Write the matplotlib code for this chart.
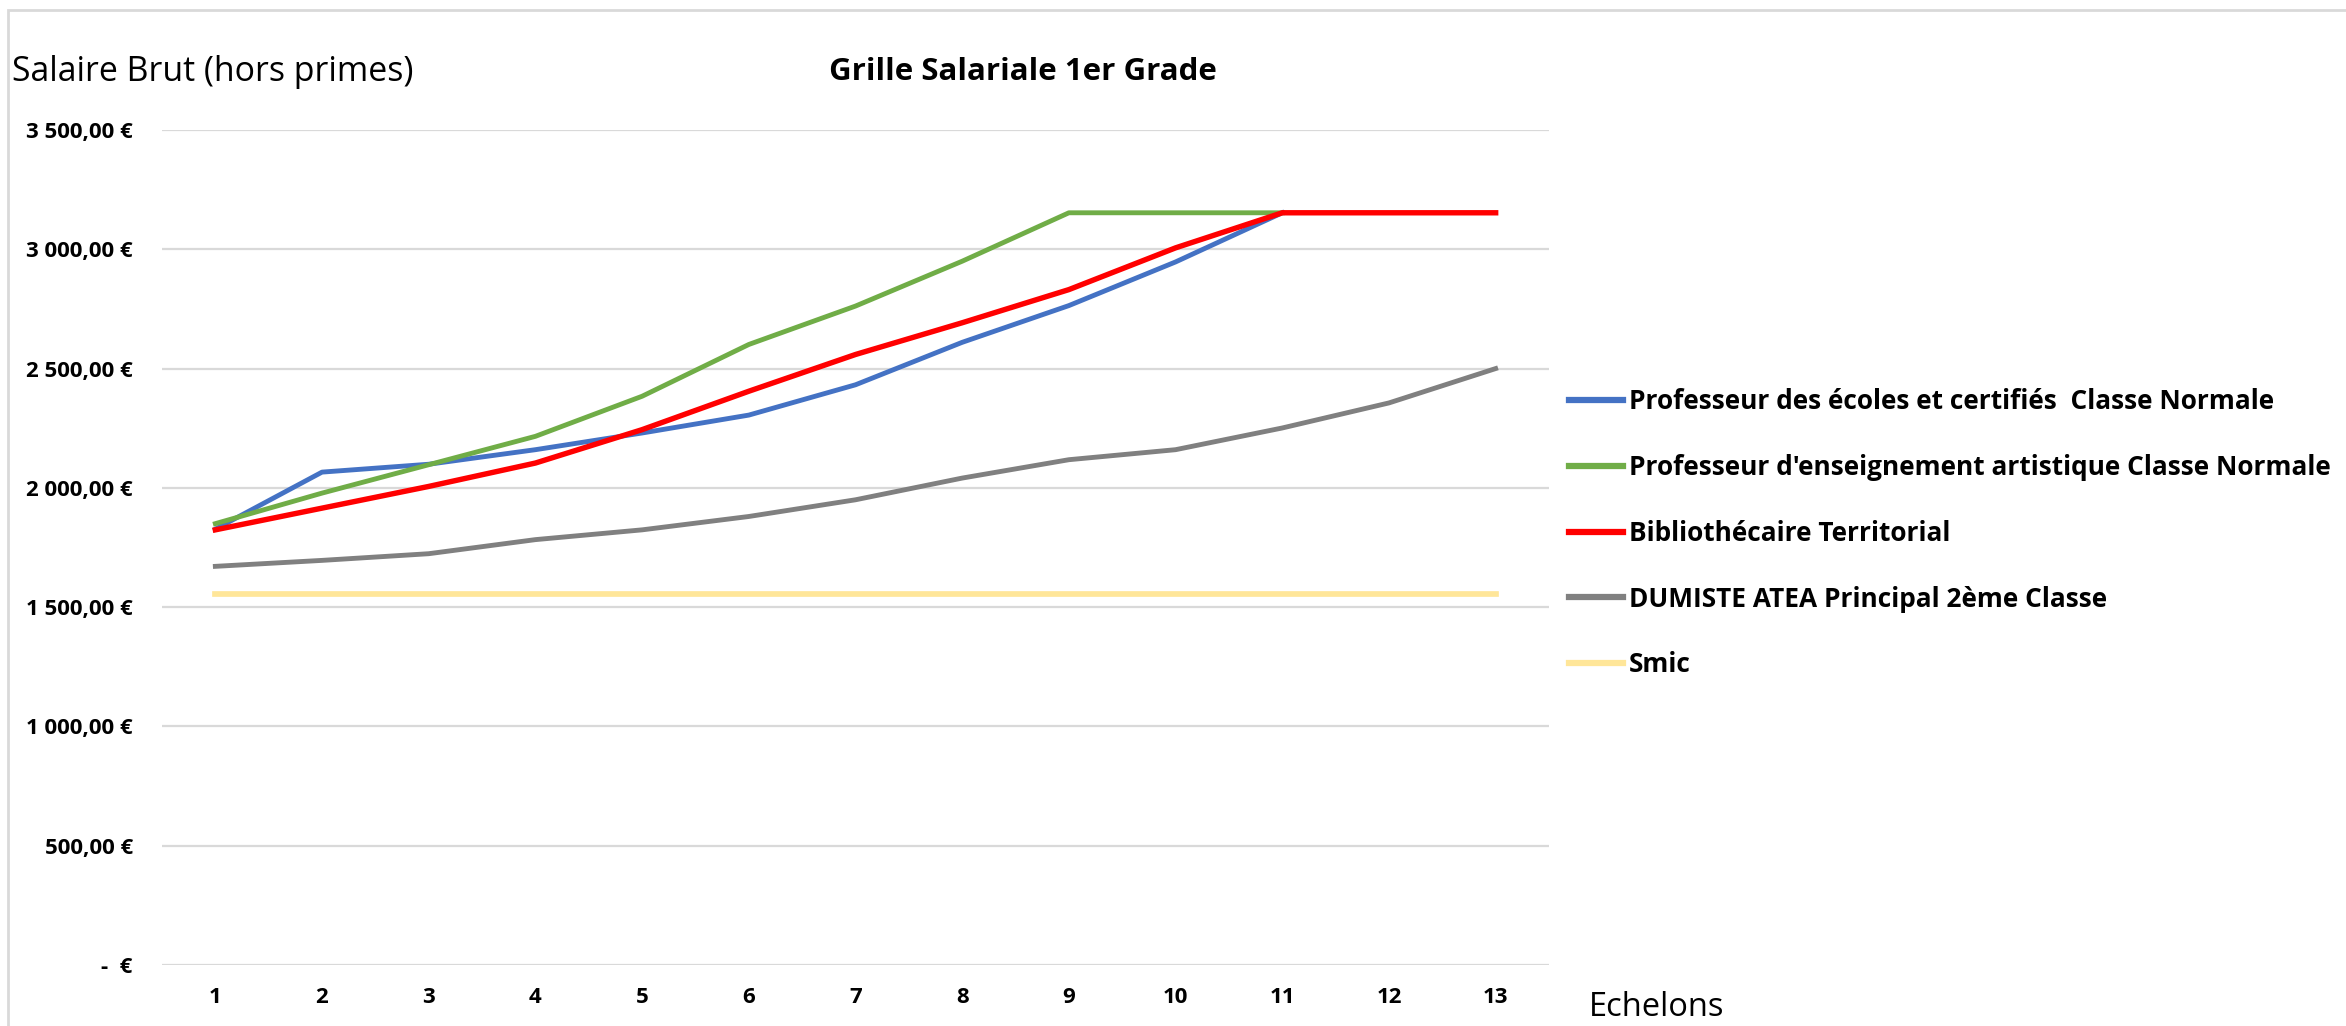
import matplotlib
matplotlib.use("Agg")
import matplotlib.pyplot as plt
from matplotlib.patches import Rectangle
from matplotlib.ticker import FuncFormatter

# Echelons 1..13
echelons = list(range(1, 14))

prof_ecoles = [1827, 2066, 2099, 2160, 2230, 2305, 2432, 2610, 2764, 2947, 3153]
prof_artistique = [1850, 1978, 2097, 2216, 2384, 2601, 2762, 2950, 3153, 3153, 3153]
bibliothecaire = [1824, 1915, 2006, 2104, 2244, 2405, 2559, 2692, 2831, 3006, 3153, 3153, 3153]
dumiste = [1671, 1696, 1724, 1783, 1824, 1880, 1950, 2041, 2118, 2160, 2251, 2356, 2500]
smic = [1555] * 13

series_labels = [
    "Professeur des écoles et certifiés  Classe Normale",
    "Professeur d'enseignement artistique Classe Normale",
    "Bibliothécaire Territorial",
    "DUMISTE ATEA Principal 2ème Classe",
    "Smic",
]
series_colors = ["#4472C4", "#70AD47", "#FF0000", "#808080", "#FFE699"]
FONT = ["Open Sans", "DejaVu Sans"]

W, H = 2346, 1026
fig = plt.figure(figsize=(W / 100, H / 100), dpi=100)
ax = fig.add_axes([162 / W, 1 - 965 / H, (1549 - 162) / W, (965 - 130) / H])

lw = 3.5
ax.plot(echelons[:len(prof_ecoles)], prof_ecoles, color=series_colors[0], lw=lw, label=series_labels[0])
ax.plot(echelons[:len(prof_artistique)], prof_artistique, color=series_colors[1], lw=lw, label=series_labels[1])
ax.plot(echelons, bibliothecaire, color=series_colors[2], lw=lw + 0.4, label=series_labels[2])
ax.plot(echelons, dumiste, color=series_colors[3], lw=lw, label=series_labels[3])
ax.plot(echelons, smic, color=series_colors[4], lw=lw + 0.6, label=series_labels[4], zorder=1.5)

ax.set_xlim(0.5, 13.5)
ax.set_ylim(0, 3500)
ax.set_xticks(echelons)
ax.set_yticks(range(0, 3501, 500))


def euro(v, pos):
    if v == 0:
        return "-  €"
    s = f"{v:,.2f}".replace(",", " ").replace(".", ",")
    return s + " €"


ax.yaxis.set_major_formatter(FuncFormatter(euro))
ax.grid(axis="y", color="#D9D9D9", lw=1.6)
ax.set_axisbelow(True)
for sp in ax.spines.values():
    sp.set_visible(False)
ax.tick_params(length=0)
ax.tick_params(axis="y", pad=21)
ax.tick_params(axis="x", pad=16)
for lab in ax.get_xticklabels() + ax.get_yticklabels():
    lab.set_fontfamily(FONT)
    lab.set_fontweight("bold")
    lab.set_fontsize(16)

fig.text(12 / W, 1 - 72 / H, "Salaire Brut (hors primes)", fontsize=24.4,
         family=FONT, va="center", ha="left")
fig.text(1023 / W, 1 - 72 / H, "Grille Salariale 1er Grade", fontsize=22.5, fontweight="bold",
         family=FONT, va="center", ha="center")
fig.text(1589 / W, 1 - 1008 / H, "Echelons", fontsize=23.5,
         family=FONT, va="center", ha="left")

leg = fig.legend(loc="upper left", bbox_to_anchor=(1569 / W, 1 - 388 / H), frameon=False,
                 prop={"family": FONT, "weight": "bold", "size": 18.9},
                 handlelength=2.05, handletextpad=0.24, labelspacing=1.48, borderaxespad=0,
                 borderpad=0)
for line in leg.get_lines():
    line.set_linewidth(4.5)

# light border around chart area
fig.patches.append(Rectangle((8 / W, -0.1), 1.2, 1 - 10 / H + 0.1, transform=fig.transFigure,
                             fill=False, edgecolor="#D9D9D9", lw=2, figure=fig))

fig.savefig("out.png", dpi=100)
